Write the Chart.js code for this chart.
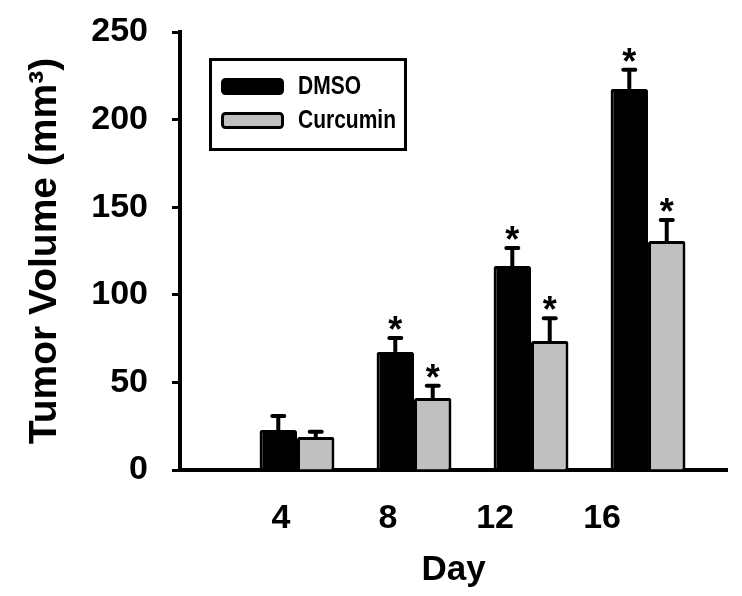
<!DOCTYPE html>
<html>
<head>
<meta charset="utf-8">
<script src="https://cdn.jsdelivr.net/npm/chart.js@4.4.1/dist/chart.umd.min.js"></script>
<style>
html,body{margin:0;padding:0;background:#ffffff;}
#wrap{width:742px;height:596px;position:relative;}
</style>
</head>
<body>
<div id="wrap"><canvas id="c" width="742" height="596"></canvas></div>
<script>
// ---- data ----
const days = [4, 8, 12, 16];
const dayLabels = ['4', '8', '12', '16'];
const seriesNames = ['DMSO', 'Curcumin'];
const dmso = [22.8, 67.4, 116.4, 217.5];
const dmsoErr = [8, 8, 10.3, 11];
const curcumin = [18.8, 41.1, 73.6, 130.7];
const curcuminErr = [3, 7, 13, 12];
const dmsoSig = [false, true, true, true];
const curcuminSig = [false, true, true, true];
const yTicks = [0, 50, 100, 150, 200, 250];
const yTitle = 'Tumor Volume (mm\u00B3)';
const xTitle = 'Day';

const FONT = 'Arial, "Liberation Sans", sans-serif';

const errorBars = {
  id: 'errorBars',
  afterDatasetsDraw(chart) {
    const ctx = chart.ctx, ys = chart.scales.y;
    chart.data.datasets.forEach((ds, di) => {
      const meta = chart.getDatasetMeta(di);
      meta.data.forEach((bar, i) => {
        const v = ds.data[i].y, e = ds.err[i];
        const top = ys.getPixelForValue(v + e);
        const cx = bar.x;
        ctx.save();
        ctx.strokeStyle = '#000';
        ctx.lineWidth = 4;
        ctx.lineCap = 'butt';
        ctx.beginPath(); ctx.moveTo(cx, bar.y); ctx.lineTo(cx, top); ctx.stroke();
        ctx.lineCap = 'round';
        ctx.beginPath(); ctx.moveTo(cx - 6, top); ctx.lineTo(cx + 6, top); ctx.stroke();
        if (ds.sig[i]) {
          ctx.fillStyle = '#000';
          ctx.font = 'bold 36px ' + FONT;
          ctx.textAlign = 'center';
          ctx.textBaseline = 'alphabetic';
          ctx.fillText('*', cx, top + 4);
        }
        ctx.restore();
      });
    });
  }
};

const legendBox = {
  id: 'legendBox',
  afterDraw(chart) {
    const ctx = chart.ctx, a = chart.chartArea;
    const x0 = a.left + 29, y0 = a.top + 26, w = 198, h = 93;
    ctx.save();
    ctx.lineWidth = 3;
    ctx.strokeStyle = '#000';
    ctx.strokeRect(x0 + 1.5, y0 + 1.5, w - 3, h - 3);
    chart.data.datasets.forEach((ds, i) => {
      const sy = y0 + 20 + i * 34;
      ctx.beginPath();
      ctx.roundRect(x0 + 13.5, sy + 1.5, 60, 14, 3);
      ctx.fillStyle = ds.backgroundColor;
      ctx.fill();
      ctx.lineWidth = 3;
      ctx.strokeStyle = '#000';
      ctx.stroke();
      ctx.save();
      ctx.translate(x0 + 89, sy + 9);
      ctx.scale(1, 1.2);
      ctx.fillStyle = '#000';
      ctx.font = 'bold 21px ' + FONT;
      ctx.textAlign = 'left';
      ctx.textBaseline = 'middle';
      ctx.fillText(ds.label, 0, 0);
      ctx.restore();
    });
    ctx.restore();
  }
};

const tickFont = { family: FONT, size: 34, weight: 'bold' };

new Chart(document.getElementById('c'), {
  type: 'bar',
  data: {
    datasets: [
      {
        label: seriesNames[0],
        data: days.map((d, i) => ({ x: d, y: dmso[i] })),
        err: dmsoErr, sig: dmsoSig,
        backgroundColor: '#000000', borderColor: '#000000',
        borderWidth: 3, borderRadius: 2, xAxisID: 'x', yAxisID: 'y'
      },
      {
        label: seriesNames[1],
        data: days.map((d, i) => ({ x: d, y: curcumin[i] })),
        err: curcuminErr, sig: curcuminSig,
        backgroundColor: '#c0c0c0', borderColor: '#000000',
        borderWidth: 3, borderRadius: 2, xAxisID: 'x', yAxisID: 'y'
      }
    ]
  },
  options: {
    responsive: false,
    animation: false,
    devicePixelRatio: 1,
    categoryPercentage: 0.64,
    barPercentage: 1,
    layout: { padding: { top: 32, right: 15, left: 0, bottom: 0 } },
    plugins: { legend: { display: false }, tooltip: { enabled: false } },
    scales: {
      x: {
        type: 'linear', display: false, min: 0, max: 18.7, offset: false,
        afterBuildTicks: s => { s.ticks = days.map(v => ({ value: v })); }
      },
      xDay: {
        type: 'linear', position: 'bottom', min: 0.224, max: 20.67, offset: false,
        afterBuildTicks: s => { s.ticks = days.map(v => ({ value: v })); },
        afterFit: s => { s.height = 126; s.paddingLeft = 0; s.paddingRight = 0; },
        grid: { display: true, drawOnChartArea: false, drawTicks: false },
        border: { display: true, color: '#000', width: 4 },
        ticks: {
          color: '#000', font: tickFont, padding: 28, maxRotation: 0, autoSkip: false,
          callback: (v, i) => dayLabels[i]
        },
        title: {
          display: true, text: xTitle, color: '#000',
          font: { family: FONT, size: 35, weight: 'bold' }, padding: { top: 0, bottom: 5 }
        }
      },
      y: {
        min: 0, max: 250,
        afterBuildTicks: s => { s.ticks = yTicks.map(v => ({ value: v })); },
        afterFit: s => { s.width = 180; s.paddingTop = 0; s.paddingBottom = 0; },
        grid: { drawOnChartArea: false, drawTicks: true, tickLength: 8, tickWidth: 3, tickColor: '#000' },
        border: { display: true, color: '#000', width: 4 },
        ticks: { color: '#000', font: tickFont, padding: 24 },
        title: {
          display: true, text: yTitle, color: '#000',
          font: { family: FONT, size: 39, weight: 'bold' }, padding: { top: 22, bottom: 0 }
        }
      }
    }
  },
  plugins: [errorBars, legendBox]
});
</script>
</body>
</html>
